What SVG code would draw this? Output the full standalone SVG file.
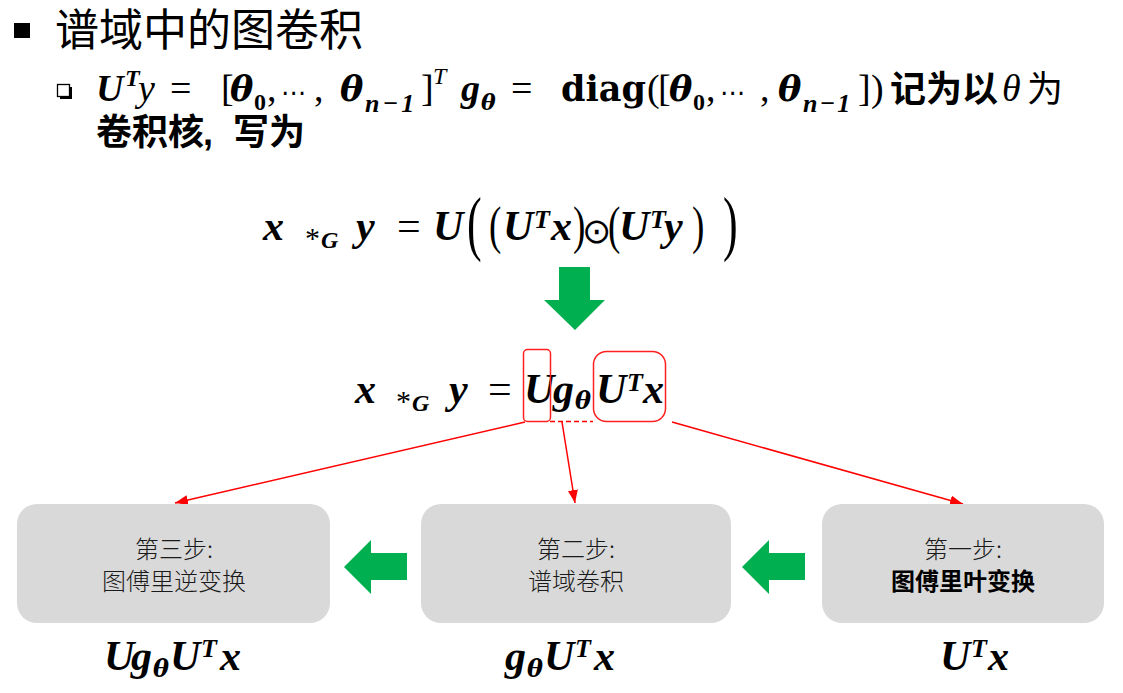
<svg xmlns="http://www.w3.org/2000/svg" width="1123" height="693" viewBox="0 0 1123 693">
<style>
.bi{font-family:"Liberation Serif",serif;font-weight:bold;font-style:italic;fill:#000}
.th{font-family:"DejaVu Serif",serif;font-weight:bold;font-style:italic;fill:#000}
.it{font-family:"Liberation Serif",serif;font-style:italic;fill:#000}
.rm{font-family:"Liberation Serif",serif;fill:#000}
.bd{font-family:"Liberation Serif",serif;font-weight:bold;fill:#000}
.cjk{font-family:"Noto Sans CJK SC",sans-serif;fill:#000}
.cjkb{font-family:"Noto Sans CJK SC",sans-serif;font-weight:bold;fill:#000}
.box{fill:#D9D9D9}
.boxt{font-family:"Noto Sans CJK SC",sans-serif;font-size:24px;fill:#1a1a1a;text-anchor:middle;font-weight:300}
.boxtb{font-family:"Noto Sans CJK SC",sans-serif;font-size:24px;fill:#000;text-anchor:middle;font-weight:bold}
.conn{stroke:#FF0000;stroke-width:1.5;fill:none}
.hl{fill:none;stroke:#FF2020;stroke-width:1.5}
.green{fill:#00B050}
</style>
<defs>
<marker id="ah" markerUnits="userSpaceOnUse" markerWidth="14" markerHeight="10" refX="13" refY="5" orient="auto">
<path d="M0,0 L13,5 L0,10 z" fill="#FF0000"/>
</marker>
</defs>

<g id="title">
<rect x="14" y="23" width="16" height="15" fill="#000"/>
<text x="55" y="46" class="cjk" font-size="44">谱域中的图卷积</text>
</g>

<g id="bullet2">
<rect x="60" y="87" width="12" height="12" fill="#000"/>
<rect x="57.5" y="84.5" width="12" height="12" fill="#fff" stroke="#000" stroke-width="1.3"/>
<g font-size="38">
<text x="96" y="101" class="bi">U</text>
<text x="125" y="86" class="bi" font-size="24">T</text>
<text x="138" y="101" class="it">y</text>
<text x="170" y="101" class="rm">=</text>
<text x="221" y="101" class="rm">[</text>
<text x="230" y="101" class="th" font-size="35">θ</text>
<text x="254" y="110" class="bd" font-size="24">0</text>
<text x="267" y="101" class="rm">,</text>
<text x="281" y="101" font-family="DejaVu Sans,sans-serif" font-size="25">⋯</text>
<text x="314" y="101" class="rm">,</text>
<text x="340" y="101" class="th" font-size="35">θ</text>
<text x="365" y="112" class="bi" font-size="26">n<tspan class="bd" dx="3">−</tspan><tspan class="bd" dx="3">1</tspan></text>
<text x="421" y="101" class="rm">]</text>
<text x="433" y="84" class="it" font-size="24">T</text>
<text x="461" y="101" class="bi">g</text>
<text x="481" y="110" class="th" font-size="22">θ</text>
<text x="511" y="101" class="rm">=</text>
<text x="561" y="101" font-family="DejaVu Serif,serif" font-weight="bold" font-size="35">diag</text>
<text x="647" y="101" class="rm">(</text>
<text x="658" y="101" class="rm">[</text>
<text x="669" y="101" class="th" font-size="35">θ</text>
<text x="693" y="110" class="bd" font-size="24">0</text>
<text x="706" y="101" class="rm">,</text>
<text x="720" y="101" font-family="DejaVu Sans,sans-serif" font-size="25">⋯</text>
<text x="760" y="101" class="rm">,</text>
<text x="778" y="101" class="th" font-size="35">θ</text>
<text x="803" y="112" class="bi" font-size="26">n<tspan class="bd" dx="2">−</tspan><tspan class="bd" dx="2">1</tspan></text>
<text x="858" y="101" class="rm">]</text>
<text x="871" y="101" class="rm">)</text>
<text x="890" y="102" class="cjkb" font-size="36">记为以</text>
<text x="1002" y="101" class="it">θ</text>
<text x="1027" y="102" class="cjk" font-size="36">为</text>
</g>
<text x="96" y="145" class="cjkb" font-size="36">卷积核</text>
<text x="203" y="145" font-family="Liberation Sans,sans-serif" font-weight="bold" font-size="36">,</text>
<text x="233" y="145" class="cjkb" font-size="36">写为</text>
</g>

<g id="eq1" font-size="42">
<text x="263" y="240" class="bi">x</text>
<text x="305" y="248" class="rm" font-size="30">*</text>
<text x="321" y="248" class="bi" font-size="24">G</text>
<text x="356" y="240" class="bi">y</text>
<text x="397" y="240" class="rm">=</text>
<text x="433" y="240" class="bi">U</text>
<text class="rm" font-size="71" transform="translate(467,247) scale(0.62,1)">(</text>
<text class="rm" font-size="53" transform="translate(489,243) scale(0.7,1)">(</text>
<text x="503" y="240" class="bi">U</text>
<text x="534" y="228" class="bi" font-size="26">T</text>
<text x="551" y="240" class="bi">x</text>
<text class="rm" font-size="53" transform="translate(573,243) scale(0.7,1)">)</text>
<text x="582" y="243" font-family="DejaVu Sans,sans-serif" font-size="35">⊙</text>
<text class="rm" font-size="53" transform="translate(608,243) scale(0.7,1)">(</text>
<text x="619" y="240" class="bi">U</text>
<text x="650" y="228" class="bi" font-size="26">T</text>
<text x="664" y="240" class="bi">y</text>
<text class="rm" font-size="53" transform="translate(692,243) scale(0.7,1)">)</text>
<text class="rm" font-size="71" transform="translate(723,247) scale(0.62,1)">)</text>
</g>

<g id="arrow-down">
<path class="green" d="M559,267 H590 V300 H605 L575,330 L544,300 H559 Z"/>
</g>

<g id="eq2" font-size="42">
<text x="355" y="403" class="bi">x</text>
<text x="396" y="411" class="rm" font-size="30">*</text>
<text x="412" y="411" class="bi" font-size="24">G</text>
<text x="449" y="403" class="bi">y</text>
<text x="488" y="403" class="rm">=</text>
<text x="524" y="403" class="bi">U</text>
<text x="553" y="403" class="bi">g</text>
<text x="575" y="409" class="th" font-size="24">θ</text>
<text x="596" y="403" class="bi">U</text>
<text x="627" y="391" class="bi" font-size="26">T</text>
<text x="643" y="403" class="bi">x</text>
</g>

<g id="highlights">
<rect class="hl" x="523.5" y="349.5" width="27" height="72" rx="4"/>
<rect class="hl" x="593.5" y="351.5" width="72" height="70" rx="13"/>
</g>

<g id="connectors">
<line class="conn" x1="550" y1="421.5" x2="593" y2="421.5" stroke-dasharray="5,3"/>
<line class="conn" x1="525" y1="422" x2="175" y2="503" marker-end="url(#ah)"/>
<line class="conn" x1="562" y1="422" x2="575" y2="503" marker-end="url(#ah)"/>
<line class="conn" x1="672" y1="422" x2="963" y2="504" marker-end="url(#ah)"/>
</g>

<g id="step3">
<rect class="box" x="17" y="504" width="313" height="119" rx="20"/>
<text class="boxt" x="174" y="558">第三步:</text>
<text class="boxt" x="174" y="590">图傅里逆变换</text>
</g>
<g id="step2">
<rect class="box" x="421" y="504" width="310" height="119" rx="20"/>
<text class="boxt" x="576" y="558">第二步:</text>
<text class="boxt" x="576" y="590">谱域卷积</text>
</g>
<g id="step1">
<rect class="box" x="822" y="504" width="282" height="119" rx="20"/>
<text class="boxt" x="963" y="558">第一步:</text>
<text class="boxtb" x="963" y="590">图傅里叶变换</text>
</g>

<g id="flow-arrows">
<path class="green" d="M407,553 V580 H371 V594 L344,567 L371,540 V553 Z"/>
<path class="green" d="M805,553 V580 H769 V594 L742,567 L769,540 V553 Z"/>
</g>

<g id="formulas" font-size="42">
<text x="104" y="670" class="bi">U</text>
<text x="131" y="670" class="bi">g</text>
<text x="153" y="677" class="th" font-size="24">θ</text>
<text x="170" y="670" class="bi">U</text>
<text x="201" y="657" class="bi" font-size="26">T</text>
<text x="220" y="670" class="bi">x</text>

<text x="505" y="670" class="bi">g</text>
<text x="527" y="677" class="th" font-size="24">θ</text>
<text x="544" y="670" class="bi">U</text>
<text x="575" y="657" class="bi" font-size="26">T</text>
<text x="594" y="670" class="bi">x</text>

<text x="940" y="670" class="bi">U</text>
<text x="971" y="657" class="bi" font-size="26">T</text>
<text x="988" y="670" class="bi">x</text>
</g>
</svg>
